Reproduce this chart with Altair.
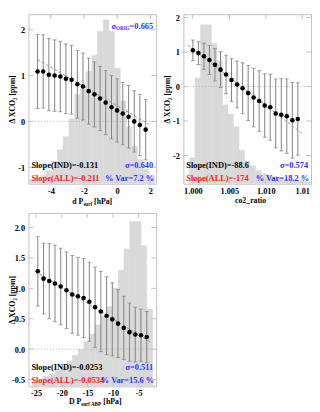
import altair as alt
import pandas as pd

FONT = "Liberation Serif"
BLUE = "#3030ff"
RED = "#ff2020"
HIST_GRAY = "#d9d9d9"
FRAME = "#c0c0c0"
ERR_GRAY = "#7f7f7f"
FIT_GRAY = "#8c8c8c"
YTITLE = "Δ XCO₂ [ppm]"

# ---------------- panel 1 : d P_surf ----------------
p1_x = [-4.80, -4.46, -4.12, -3.77, -3.43, -3.09, -2.75, -2.40, -2.06, -1.72,
        -1.37, -1.03, -0.69, -0.34, 0.00, 0.34, 0.69, 1.03, 1.37, 1.72]
p1_y = [1.09, 1.09, 1.02, 1.00, 0.98, 0.93, 0.91, 0.81, 0.76, 0.66,
        0.59, 0.50, 0.41, 0.31, 0.24, 0.17, 0.10, 0.00, -0.08, -0.18]
p1_err = [0.81, 0.80, 0.79, 0.78, 0.77, 0.76, 0.75, 0.74, 0.73, 0.72,
          0.71, 0.70, 0.70, 0.69, 0.69, 0.68, 0.68, 0.67, 0.67, 0.66]
p1_hist_left = [-5.33, -4.98, -4.64, -4.29, -3.95, -3.60, -3.26, -2.91, -2.57, -2.22, -1.88,
                -1.53, -1.19, -0.84, -0.50, -0.15, 0.19, 0.54, 0.88, 1.23, 1.57, 1.92]
p1_hist_top = [-1.26, -1.22, -1.18, -1.08, -0.87, -0.62, -0.33, 0.06, 0.59, 0.70, 1.09,
               1.44, 1.97, 2.22, 1.97, 1.16, 0.45, -0.12, -0.55, -0.83, -1.04, -1.18]
p1_hist_w = 0.345
p1_fit_x = [-4.80, 1.90]
p1_fit_y = [1.35, -0.06]
p1_xdom = [-5.35, 2.35]
p1_ydom = [-1.36, 2.34]
p1_xticks = [-4, -2, 0, 2]
p1_xlabels = ["-4", "-2", "0", "2"]
p1_yticks = [-1, 0, 1, 2]
p1_ylabels = ["-1", "0", "1", "2"]
p1_stats = ["Slope(IND)=-0.131", "σ=0.640", "Slope(ALL)=-0.211", "% Var=7.2 %"]
p1_sigma_orig = ["σ", "ORIG", "=0.665"]
p1_xtitle = [("d P", False), ("surf", True), ("[hPa]", False)]

# ---------------- panel 2 : co2_ratio ----------------
p2_x = [1.00000, 1.00076, 1.00152, 1.00227, 1.00303, 1.00379, 1.00455, 1.00530, 1.00606, 1.00682,
        1.00758, 1.00833, 1.00909, 1.00985, 1.01061, 1.01136, 1.01212, 1.01288, 1.01364, 1.01439]
p2_y = [1.05, 0.97, 0.88, 0.77, 0.63, 0.49, 0.35, 0.19, 0.06, -0.05,
        -0.19, -0.32, -0.42, -0.55, -0.60, -0.78, -0.82, -0.86, -0.98, -0.94]
p2_err = [0.30, 0.33, 0.38, 0.42, 0.47, 0.52, 0.56, 0.62, 0.68, 0.74,
          0.80, 0.85, 0.88, 0.92, 0.96, 1.00, 1.05, 1.08, 1.10, 1.05]
p2_hist_left = [0.99952, 1.00028, 1.00104, 1.00179, 1.00255, 1.00331, 1.00406, 1.00482, 1.00558,
                1.00633, 1.00709, 1.00785, 1.00861, 1.00936, 1.01012, 1.01088, 1.01163, 1.01239,
                1.01315, 1.01390, 1.01466, 1.01542]
p2_hist_top = [-2.07, 0.25, 1.79, 1.79, 1.25, 0.75, -0.53, -0.80, -1.16, -1.85, -2.16,
               -2.30, -2.44, -2.53, -2.57, -2.62, -2.65, -2.68, -2.70, -2.72, -2.74, -2.76]
p2_hist_w = 0.000757
p2_fit_x = [0.99931, 1.01489]
p2_fit_y = [1.20, -1.35]
p2_xdom = [0.9987, 1.0162]
p2_ydom = [-2.82, 2.10]
p2_xticks = [1.000, 1.005, 1.010, 1.015]
p2_xlabels = ["1.000", "1.005", "1.010", "1.01"]
p2_yticks = [-2, -1, 0, 1, 2]
p2_ylabels = ["-2", "-1", "0", "1", "2"]
p2_stats = ["Slope(IND)=-88.6", "σ=0.574", "Slope(ALL)=-174", "% Var=18.2 %"]
p2_xtitle = [("co2_ratio", False)]

# ---------------- panel 3 : D P_surf ABP ----------------
p3_x = [-24.68, -23.56, -22.44, -21.33, -20.21, -19.09, -17.97, -16.85, -15.74, -14.62,
        -13.50, -12.38, -11.26, -10.14, -9.03, -7.91, -6.79, -5.67, -4.55, -3.43]
p3_y = [1.28, 1.16, 1.12, 1.08, 1.03, 0.97, 0.90, 0.87, 0.84, 0.78,
        0.69, 0.62, 0.55, 0.49, 0.42, 0.35, 0.28, 0.24, 0.23, 0.20]
p3_err = [0.57, 0.58, 0.62, 0.63, 0.63, 0.63, 0.64, 0.64, 0.65, 0.65,
          0.66, 0.66, 0.64, 0.60, 0.56, 0.52, 0.48, 0.45, 0.43, 0.42]
p3_hist_left = [-25.77, -24.65, -23.53, -22.42, -21.30, -20.18, -19.06, -17.94, -16.83, -15.71, -14.59,
                -13.47, -12.35, -11.24, -10.12, -9.00, -7.88, -6.76, -5.65, -4.53, -3.41, -2.29]
p3_hist_top = [-0.55, -0.50, -0.45, -0.40, -0.35, -0.28, -0.20, -0.10, 0.00, 0.12, 0.25,
               0.40, 0.55, 0.70, 1.00, 1.30, 1.65, 2.10, 2.10, 1.70, 0.66, -0.60]
p3_hist_w = 1.118
p3_fit_x = [-25.13, -2.76]
p3_fit_y = [1.28, 0.12]
p3_xdom = [-26.5, -1.6]
p3_ydom = [-0.612, 2.24]
p3_xticks = [-25, -20, -15, -10, -5]
p3_xlabels = ["-25", "-20", "-15", "-10", "-5"]
p3_yticks = [-0.5, 0.0, 0.5, 1.0, 1.5, 2.0]
p3_ylabels = ["-0.5", "0.0", "0.5", "1.0", "1.5", "2.0"]
p3_stats = ["Slope(IND)=-0.0253", "σ=0.511", "Slope(ALL)=-0.0534", "% Var=15.6 %"]
p3_xtitle = [("D P", False), ("surf ABP", True), ("[hPa]", False)]

# Times-Bold style advance widths (1/1000 em) to place multi-part texts
AFM = {' ': 250, '%': 1000, '(': 333, ')': 333, ',': 250, '-': 333, '.': 250, '=': 570,
       'A': 722, 'B': 667, 'C': 722, 'D': 722, 'G': 778, 'I': 389, 'L': 667, 'N': 722,
       'O': 778, 'P': 611, 'R': 722, 'S': 556, 'V': 722, 'X': 722, '[': 333, ']': 333,
       '_': 500, 'a': 500, 'c': 444, 'd': 556, 'e': 444, 'f': 333, 'h': 556, 'i': 278,
       'l': 278, 'm': 833, 'o': 500, 'p': 556, 'r': 444, 's': 389, 't': 333, 'u': 556,
       'σ': 560, 'Δ': 640}


def tw(s, size):
    return sum(AFM.get(ch, 500) for ch in s) * size / 1000.0


def one():
    return alt.Data(values=[{"k": 0}])


def txt(s, x, y, size, color="black", align="left"):
    return alt.Chart(one()).mark_text(
        text=s, font=FONT, fontWeight="bold", fontSize=size, color=color,
        align=align, baseline="middle").encode(x=alt.value(x), y=alt.value(y))


def label_expr(ticks, labels, eps):
    parts = [f"abs(datum.value - ({t})) < {eps} ? '{l}'" for t, l in zip(ticks, labels)]
    return " : ".join(parts) + " : ''"


def panel(x, y, err, hl, ht, hw, fx, fy, xdom, ydom, xticks, xlabels, yticks, ylabels,
          stats, xtitle, w, h, eps, title_dx=0.0, title_dy=18.5, stat_dy=(19, 6),
          sigma_orig=None, xpad=3):
    xs = alt.Scale(domain=xdom, nice=False, zero=False)
    ys = alt.Scale(domain=ydom, nice=False, zero=False)
    lab = dict(labelFont=FONT, labelFontWeight="bold", labelFontSize=8.5,
               labelColor="black", labelFlush=False, labelOverlap=False,
               domain=False, ticks=False, grid=False)
    xaxis = alt.Axis(values=xticks, labelExpr=label_expr(xticks, xlabels, eps),
                     title=None, labelPadding=xpad, **lab)
    yaxis = alt.Axis(values=yticks, labelExpr=label_expr(yticks, ylabels, 1e-6),
                     title=YTITLE, titleX=-12, titleY=h / 2, titleFont=FONT,
                     titleFontWeight="bold", titleFontSize=8, titleColor="black",
                     labelPadding=4, **lab)

    def X(f):
        return alt.X(f, scale=xs, axis=xaxis)

    def Y(f):
        return alt.Y(f, scale=ys, axis=yaxis)

    hist = pd.DataFrame({"left": hl, "top": ht})
    bars = alt.Chart(hist).transform_calculate(
        right=f"datum.left + {hw}", base=f"{ydom[0]}"
    ).mark_rect(color=HIST_GRAY, stroke=HIST_GRAY, strokeWidth=0.4, clip=True).encode(
        x=X("left:Q"), x2="right:Q", y=Y("top:Q"), y2="base:Q")

    zero = alt.Chart(pd.DataFrame({"v": [0]})).mark_rule(
        color="#b4b4b4", strokeDash=[1, 2], strokeWidth=1).encode(y=Y("v:Q"))

    pts = pd.DataFrame({"x": x, "y": y, "e": err})
    base = alt.Chart(pts).transform_calculate(lo="datum.y - datum.e", hi="datum.y + datum.e")
    ebar = base.mark_rule(color=ERR_GRAY, strokeWidth=1).encode(
        x=X("x:Q"), y=Y("lo:Q"), y2="hi:Q")
    cap_lo = base.mark_tick(color=ERR_GRAY, orient="horizontal", size=4, thickness=1).encode(
        x=X("x:Q"), y=Y("lo:Q"))
    cap_hi = base.mark_tick(color=ERR_GRAY, orient="horizontal", size=4, thickness=1).encode(
        x=X("x:Q"), y=Y("hi:Q"))

    fit = alt.Chart(pd.DataFrame({"x": fx, "y": fy})).mark_line(
        color=FIT_GRAY, strokeDash=[3, 2], strokeWidth=0.9, clip=True).encode(
        x=X("x:Q"), y=Y("y:Q"))

    dots = alt.Chart(pts).mark_circle(color="black", opacity=1, size=22).encode(
        x=X("x:Q"), y=Y("y:Q"))

    xt = alt.Chart(pd.DataFrame({"v": xticks}))
    yt = alt.Chart(pd.DataFrame({"v": yticks}))
    tick_layers = [
        xt.mark_rule(color=FRAME).encode(x=X("v:Q"), y=alt.value(h), y2=alt.value(h - 5)),
        xt.mark_rule(color=FRAME).encode(x=X("v:Q"), y=alt.value(0), y2=alt.value(5)),
        yt.mark_rule(color=FRAME).encode(y=Y("v:Q"), x=alt.value(0), x2=alt.value(5)),
        yt.mark_rule(color=FRAME).encode(y=Y("v:Q"), x=alt.value(w - 5), x2=alt.value(w)),
    ]

    fs = 8.6
    texts = [
        txt(stats[0], 3, h - stat_dy[0], fs, "black"),
        txt(stats[1], w - 3, h - stat_dy[0], fs, BLUE, "right"),
        txt(stats[2], 3, h - stat_dy[1], fs, RED),
        txt(stats[3], w - 2, h - stat_dy[1], fs, BLUE, "right"),
    ]
    if sigma_orig is not None:
        xe = w - 3
        ys0 = 12
        texts.append(txt(sigma_orig[2], xe, ys0, fs, BLUE, "right"))
        x1 = xe - tw(sigma_orig[2], fs)
        texts.append(txt(sigma_orig[1], x1, ys0 + 2.5, 5.2, BLUE, "right"))
        x2 = x1 - tw(sigma_orig[1], 5.2)
        texts.append(txt(sigma_orig[0], x2, ys0, fs, BLUE, "right"))

    # x-axis title with subscript parts (a space gap after a subscript)
    tsz, ssz = 8.0, 5.2
    gap = tw(" ", tsz)
    widths = []
    for i, (s, sub) in enumerate(xtitle):
        wdt = tw(s, ssz if sub else tsz)
        if sub and i < len(xtitle) - 1:
            wdt += gap
        widths.append(wdt)
    cx = w / 2 + title_dx - sum(widths) / 2
    cy = h + title_dy
    for (s, sub), wdt in zip(xtitle, widths):
        size = ssz if sub else tsz
        texts.append(txt(s, cx, cy + (2.5 if sub else 0), size))
        cx += wdt

    return alt.layer(bars, zero, ebar, cap_lo, cap_hi, fit, dots, *tick_layers, *texts
                     ).properties(width=w, height=h)


W = 131
p1 = panel(p1_x, p1_y, p1_err, p1_hist_left, p1_hist_top, p1_hist_w, p1_fit_x, p1_fit_y,
           p1_xdom, p1_ydom, p1_xticks, p1_xlabels, p1_yticks, p1_ylabels, p1_stats,
           p1_xtitle, W, 174, 1e-6, sigma_orig=p1_sigma_orig)
p2 = panel(p2_x, p2_y, p2_err, p2_hist_left, p2_hist_top, p2_hist_w, p2_fit_x, p2_fit_y,
           p2_xdom, p2_ydom, p2_xticks, p2_xlabels, p2_yticks, p2_ylabels, p2_stats,
           p2_xtitle, W, 174, 1e-6, title_dx=3.5, title_dy=18)
p3 = panel(p3_x, p3_y, p3_err, p3_hist_left, p3_hist_top, p3_hist_w, p3_fit_x, p3_fit_y,
           p3_xdom, p3_ydom, p3_xticks, p3_xlabels, p3_yticks, p3_ylabels, p3_stats,
           p3_xtitle, W, 178, 1e-6, title_dx=3, title_dy=16, stat_dy=(20, 6), xpad=2)

chart = alt.concat(p1, p2, p3, columns=2, spacing={"row": 4, "column": 6}).configure_view(
    stroke=FRAME, strokeWidth=1).properties(padding=0)

chart.save("out.html", embed_options={"renderer": "svg", "actions": False})
